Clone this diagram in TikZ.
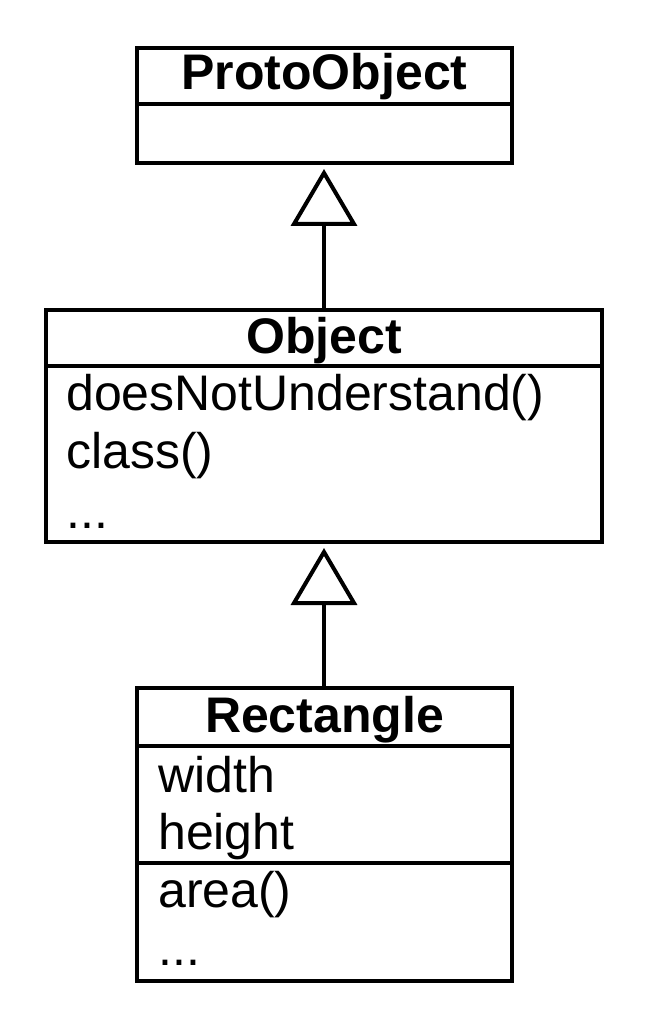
\documentclass[tikz,border=0pt]{standalone}
\usepackage{fontspec}
\setmainfont{Liberation Sans}
\usetikzlibrary{arrows.meta}
\begin{document}
\begin{tikzpicture}[x=1pt,y=-1pt,
  classbox/.style={draw, line width=4pt, inner sep=0pt, outer sep=0pt},
  divider/.style={line width=4pt},
  headtxt/.style={anchor=base, inner sep=0pt, font=\fontsize{50}{57}\selectfont\bfseries},
  bodytxt/.style={anchor=base west, inner sep=0pt, font=\fontsize{50}{57}\selectfont},
  inherit/.style={line width=4pt, shorten >=6pt, -{Triangle[open, length=57pt, width=66pt, line width=4pt]}}]
\useasboundingbox (0,0) rectangle (645,1024);
% ProtoObject
\node[classbox, minimum width=375pt, minimum height=115pt] (proto) at (324.5,105.5) {};
\draw[divider] (proto.west |- 0,104) -- (proto.east |- 0,104);
\node[headtxt] (protoname) at (324.5,90) {ProtoObject};
% Object
\node[classbox, minimum width=556pt, minimum height=232pt] (object) at (324,426) {};
\draw[divider] (object.west |- 0,366) -- (object.east |- 0,366);
\node[headtxt] (objectname) at (324,353) {Object};
\node[bodytxt] (o1) at (66,410) {doesNotUnderstand()};
\node[bodytxt] (o2) at (66,468) {class()};
\node[bodytxt] (o3) at (66,528) {...};
% Rectangle
\node[classbox, minimum width=375pt, minimum height=293pt] (rect) at (324.5,834.5) {};
\draw[divider] (rect.west |- 0,746) -- (rect.east |- 0,746);
\draw[divider] (rect.west |- 0,863) -- (rect.east |- 0,863);
\node[headtxt] (rectname) at (324.5,732) {Rectangle};
\node[bodytxt] (r1) at (158,792) {width};
\node[bodytxt] (r2) at (158,849) {height};
\node[bodytxt] (r3) at (158,907) {area()};
\node[bodytxt] (r4) at (158,965) {...};
% generalizations
\draw[inherit] (object.north -| 324,0) -- (proto.south -| 324,0);
\draw[inherit] (rect.north -| 324,0) -- (object.south -| 324,0);
\end{tikzpicture}
\end{document}
